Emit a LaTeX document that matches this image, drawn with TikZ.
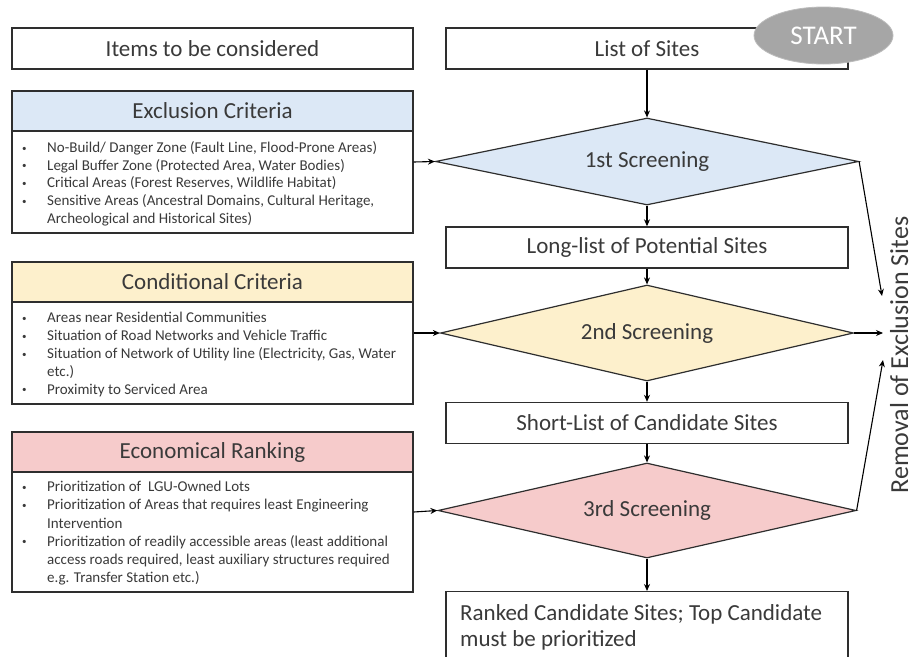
\documentclass[tikz,border=0pt]{standalone}
\usepackage{fontspec}
\setmainfont{Carlito}
\usetikzlibrary{shapes.geometric,arrows.meta}

\definecolor{edge}{HTML}{2E2E2E}
\definecolor{ink}{HTML}{3A3A3A}
\definecolor{exclfill}{HTML}{DCE8F6}
\definecolor{condfill}{HTML}{FDF0CC}
\definecolor{econfill}{HTML}{F6CBCB}
\definecolor{startfill}{HTML}{A6A6A6}

% bullet with hanging indent for the criteria lists
\newcommand{\bul}{\makebox[25pt][l]{\raisebox{1.5pt}{\fontsize{9}{9}\selectfont\textbullet}}}
\newcommand{\hang}{\hspace*{25pt}}

\tikzset{
  big/.style={font=\fontsize{23}{26}\selectfont, text=ink},
  box/.style={draw=edge, line width=1.4pt, rectangle, inner sep=0pt, big},
  panel/.style={draw=edge, line width=1.4pt, fill=white, minimum width=401pt, inner sep=0pt},
  hdr/.style={box, minimum width=401pt, minimum height=40pt},
  flowbox/.style={box, fill=white, minimum width=402pt, minimum height=41pt},
  screen/.style={diamond, aspect=4.8, draw=edge, line width=1.2pt, inner sep=0pt, big},
  link/.style={draw=black, line width=1.1pt, -{Stealth[length=7pt,width=6pt]}},
  bullets/.style={align=left, anchor=north west, inner sep=0pt, text=ink},
}

\begin{document}
\begin{tikzpicture}[x=1pt,y=-1pt]
\clip (0,0) rectangle (915,656);
\fill[white] (0,0) rectangle (915,656);

% ---------- left column: criteria ----------
\node[box, minimum width=401pt, minimum height=41pt] (items) at (212.5,48.5) {Items to be considered};

\node[panel, minimum height=142pt] (excl) at (212.5,162) {};
\node[hdr, fill=exclfill, anchor=north] (exclhead) at (excl.north) {Exclusion Criteria};
\node[bullets, font=\fontsize{15}{17.6}\selectfont] (excllist) at (22,141.5) {\rule{0pt}{11pt}\bul No-Build/ Danger Zone (Fault Line, Flood-Prone Areas)\\
\bul Legal Buffer Zone (Protected Area, Water Bodies)\\
\bul Critical Areas (Forest Reserves, Wildlife Habitat)\\
\bul Sensitive Areas (Ancestral Domains, Cultural Heritage,\\
\hang Archeological and Historical Sites)};

\node[panel, minimum height=142pt] (cond) at (212.5,333) {};
\node[hdr, fill=condfill, anchor=north] (condhead) at (cond.north) {Conditional Criteria};
\node[bullets, font=\fontsize{15}{17.9}\selectfont] (condlist) at (22,311.5) {\rule{0pt}{11pt}\bul Areas near Residential Communities\\
\bul Situation of Road Networks and Vehicle Traffic\\
\bul Situation of Network of Utility line (Electricity, Gas, Water\\
\hang etc.)\\
\bul Proximity to Serviced Area};

\node[panel, minimum height=160pt] (econ) at (212.5,512) {};
\node[hdr, fill=econfill, anchor=north] (econhead) at (econ.north) {Economical Ranking};
\node[bullets, font=\fontsize{15}{18.2}\selectfont] (econlist) at (22,480.5) {\rule{0pt}{11pt}\bul Prioritization of \ LGU-Owned Lots\\
\bul Prioritization of Areas that requires least Engineering\\
\hang Intervention\\
\bul Prioritization of readily accessible areas (least additional\\
\hang access roads required, least auxiliary structures required\\
\hang e.g. Transfer Station etc.)};

% ---------- right column: screening flow ----------
\node[flowbox] (sites) at (647,48.5) {List of Sites};
\node[ellipse, fill=startfill, draw=startfill!75!white, line width=0.8pt,
      minimum width=139pt, minimum height=57pt, inner sep=0pt, text=white,
      font=\fontsize{27}{30}\selectfont] (start) at (823.5,35.5) {START};

\node[screen, fill=exclfill, minimum width=423pt, minimum height=87pt] (scr1) at (647,161.5) {1st Screening};
\node[flowbox] (longlist) at (647,247.5) {Long-list of Potential Sites};
\node[screen, fill=condfill, minimum width=413pt, minimum height=96pt] (scr2) at (647,333) {2nd Screening};
\node[flowbox] (shortlist) at (647,423) {Short-List of Candidate Sites};
\node[screen, fill=econfill, minimum width=418pt, minimum height=95pt] (scr3) at (647,510.5) {3rd Screening};
\node[box, minimum width=402pt, minimum height=90pt, anchor=north] (ranked) at (647,591) {};
\node[big, align=left, anchor=north west, inner sep=0pt] (rankedtext) at (460,603.5)
  {\rule{0pt}{17pt}Ranked Candidate Sites; Top Candidate\\must be prioritized};

% removal label and its converging arrow ends
\node[font=\fontsize{26}{28}\selectfont, text=ink, rotate=90, anchor=base, inner sep=0pt] (removal) at (908,355) {Removal of Exclusion Sites};
\coordinate (rm1) at (882,296);
\coordinate (rm2) at (883,333);
\coordinate (rm3) at (883,360);

% ---------- connectors ----------
\draw[link] (sites.south) -- (scr1.north);
\draw[link] (scr1.south) -- (longlist.north);
\draw[link] (longlist.south) -- (scr2.north);
\draw[link] (scr2.south) -- (shortlist.north);
\draw[link] (shortlist.south) -- (scr3.north);
\draw[link] (scr3.south) -- (ranked.north);

\draw[link] (excl.east) -- (scr1.west);
\draw[link] (cond.east) -- (scr2.west);
\draw[link] (econ.east) -- (scr3.west);

\draw[link] (scr1.east) -- (rm1);
\draw[link] (scr2.east) -- (rm2);
\draw[link] (scr3.east) -- (rm3);
\end{tikzpicture}
\end{document}
